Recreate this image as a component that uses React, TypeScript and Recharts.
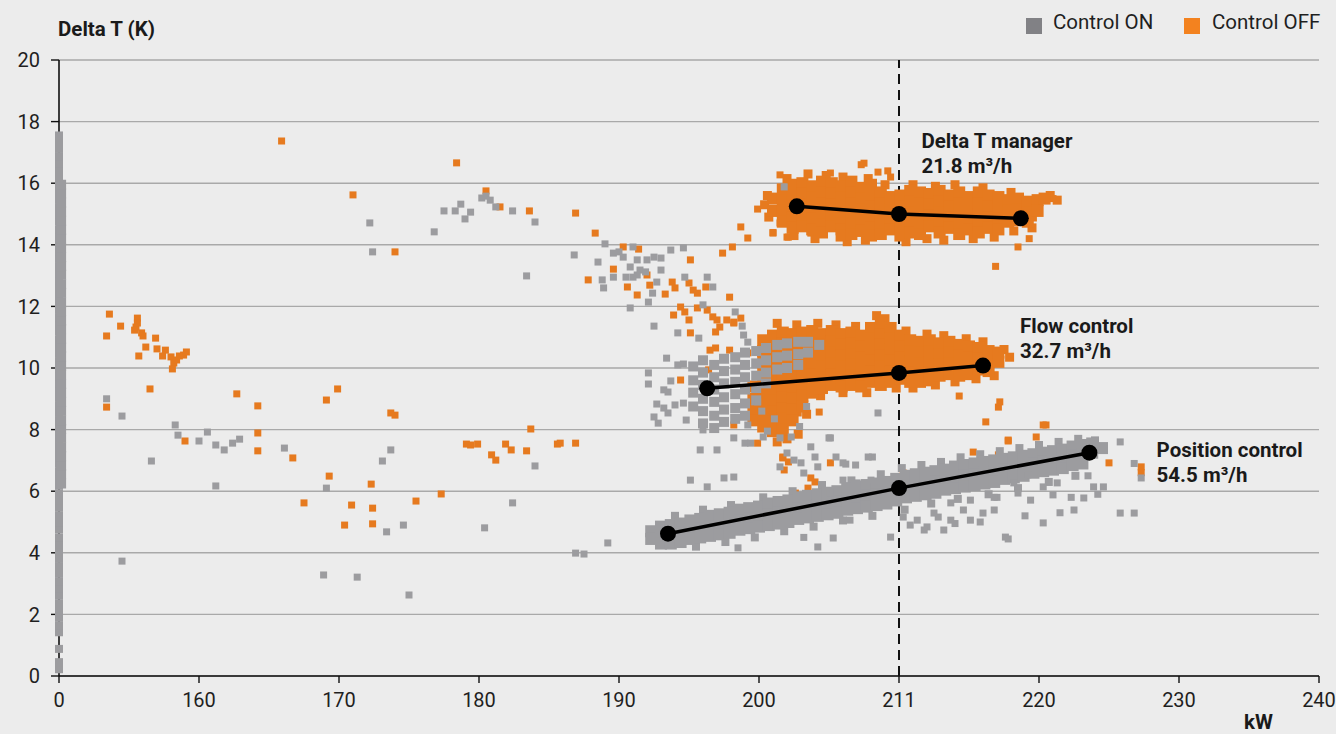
import React from 'react';
import { ScatterChart, Scatter, XAxis, YAxis, CartesianGrid, ReferenceDot } from 'recharts';

type Pt = [number, number];
type Col = [number, number[]];

// x slots: the first one holds the 0 kW readings, then 160..240 kW (210 slot is labelled 211)
const X_TICKS = [150, 160, 170, 180, 190, 200, 210, 220, 230, 240];
const X_TICK_LABELS = ['0', '160', '170', '180', '190', '200', '211', '220', '230', '240'];
const Y_TICKS = [0, 2, 4, 6, 8, 10, 12, 14, 16, 18, 20];
const IDLE_SLOT = 150;
const designLoadLine: Pt[] = [[210, 0], [210, 20]];

const SERIES_NAMES = ['Control ON', 'Control OFF'];

const GREY = '#9c9c9f';
const ORANGE = '#e67a1f';
const LEGEND_GREY = '#818185';
const LEGEND_ORANGE = '#f3821f';

// Control ON readings at 0 kW (pump idle)
const idleOnY = [
  0.22, 0.45, 0.88, 1.42, 1.65, 1.9, 2.14, 2.36, 2.61, 2.85, 3.08, 3.33, 3.55, 3.8, 4.03, 4.27,
  4.5, 4.76, 4.98, 5.22, 5.47, 5.7, 5.93, 6.18, 6.41, 6.65, 6.9, 7.12, 7.37, 7.6, 7.84, 8.08,
  8.31, 8.56, 8.79, 9.03, 9.27, 9.5, 9.74, 9.99, 10.22, 10.46, 10.7, 10.93, 11.18, 11.41, 11.65,
  11.89, 12.12, 12.37, 12.6, 12.84, 13.08, 13.31, 13.56, 13.79, 14.03, 14.27, 14.5, 14.75, 14.98,
  15.22, 15.46, 15.69, 15.94, 16.17, 16.41, 16.65, 16.88, 17.12, 17.35, 17.55,
];
const idleOnYDense = [
  6.25, 6.55, 6.83, 7.14, 7.42, 7.73, 8.02, 8.3, 8.61, 8.9, 9.2, 9.48, 9.79, 10.07, 10.38, 10.66,
  10.95, 11.26, 11.54, 11.85, 12.13, 12.44, 12.72, 13.03, 13.31, 13.6, 13.9, 14.2, 14.49, 14.78,
  15.08, 15.37, 15.67, 15.95,
];

// Control ON, single readings
const onScatter: Pt[] = [
  [153.4, 9.0], [154.5, 8.44], [154.5, 3.73], [156.6, 6.98], [158.3, 8.15], [158.5, 7.82],
  [160.0, 7.63], [160.6, 7.92], [161.2, 7.5], [161.2, 6.17], [161.8, 7.34], [162.4, 7.56],
  [162.9, 7.69], [166.1, 7.4], [169.1, 6.1], [168.9, 3.28], [171.3, 3.21], [172.2, 14.71],
  [172.4, 13.77], [173.1, 6.98], [173.7, 7.34], [173.4, 4.68], [174.6, 4.9], [175.0, 2.63],
  [176.8, 14.42], [177.5, 15.1], [178.3, 15.1], [178.7, 15.32], [179.0, 14.84], [179.4, 15.06],
  [180.2, 15.52], [180.5, 15.58], [180.8, 15.45], [181.2, 15.23], [182.4, 15.1], [184.0, 14.74],
  [180.4, 4.81], [182.4, 5.62], [183.4, 12.99], [184.0, 6.82], [186.8, 13.67], [186.9, 3.99],
  [187.5, 3.96], [189.2, 4.32],
  [189.0, 14.03], [188.5, 13.44], [188.8, 12.86], [188.9, 12.6], [189.6, 13.73], [190.0, 13.77],
  [191.0, 13.93], [190.3, 13.6], [190.8, 13.28], [191.3, 13.51], [191.5, 13.18], [191.3, 13.02],
  [191.0, 12.95], [190.5, 12.95], [189.6, 12.95], [192.0, 13.51], [191.9, 13.12], [192.5, 13.6],
  [192.7, 12.79], [192.4, 12.43], [192.1, 12.14], [193.0, 13.57], [193.0, 13.18], [193.7, 13.83],
  [194.6, 13.9], [190.8, 11.95], [194.7, 12.95], [196.3, 12.95], [196.7, 12.63], [196.0, 12.05],
  [198.3, 11.82], [198.8, 11.36], [199.2, 10.84], [192.5, 11.36], [194.2, 11.14], [195.7, 10.97],
  [193.4, 10.32], [192.1, 9.84], [192.1, 9.48], [193.7, 9.58], [193.2, 9.29], [193.5, 9.22],
  [192.7, 8.83], [193.2, 8.7], [193.5, 8.54], [194.0, 8.8], [194.6, 8.86], [192.5, 8.41],
  [192.8, 8.21], [194.8, 8.31], [194.2, 10.1], [194.6, 10.13], [198.9, 11.07], [201.8, 15.88],
  [195.8, 7.34], [197.0, 7.34], [196.0, 7.99], [198.2, 7.73], [199.0, 7.56], [199.4, 7.56],
  [208.5, 8.54], [205.0, 7.73], [208.1, 7.11], [206.2, 6.88], [206.9, 6.85], [205.5, 7.11],
  [203.7, 7.44], [204.0, 7.11], [202.3, 7.76], [202.0, 7.24], [203.0, 6.92], [201.5, 6.79],
  [195.1, 6.36], [196.3, 6.14], [197.5, 6.43], [198.2, 6.46], [199.2, 8.15], [200.3, 7.76],
  [201.5, 7.73], [204.2, 6.79], [205.1, 7.73], [202.5, 7.01], [203.2, 6.59], [206.0, 6.36],
  [207.0, 6.27], [208.0, 6.36], [205.1, 5.94], [207.8, 7.11], [206.0, 6.92],
  [200.2, 8.6], [201.1, 8.35], [200.6, 7.95], [199.9, 8.9], [202.9, 8.1], [203.4, 8.75],
  [198.5, 4.16], [203.2, 4.5], [204.2, 4.19], [205.3, 4.48], [206.5, 5.06], [209.4, 4.51],
  [210.3, 5.16], [211.3, 5.06], [212.0, 4.84], [212.8, 5.16], [213.7, 5.06], [214.6, 5.39],
  [215.1, 5.06], [216.0, 5.29], [216.8, 5.39], [217.0, 5.8], [218.5, 5.94], [219.4, 5.71],
  [220.3, 6.14], [221.3, 6.27], [222.3, 5.8], [222.5, 5.39], [223.9, 6.14], [224.6, 6.14],
  [225.8, 5.29], [226.8, 5.29], [225.8, 7.6], [226.8, 6.9], [227.3, 6.43], [217.6, 4.51],
  [220.3, 4.97], [213.2, 4.74], [211.8, 4.74], [218.2, 6.27], [219.2, 6.53], [221.0, 5.88],
  [223.2, 5.78], [216.8, 5.8], [215.1, 5.71], [213.7, 5.62], [212.5, 5.29], [217.8, 4.45],
  [210.8, 4.9], [214.0, 4.95], [215.8, 5.0], [219.0, 5.2], [221.5, 5.3], [223.5, 6.5],
  [224.2, 5.9],
];

// Control OFF, single readings
const offScatter: Pt[] = [
  [153.4, 11.04], [153.6, 11.75], [154.4, 11.36], [155.6, 11.62], [155.5, 11.33], [155.6, 11.46],
  [155.4, 11.23], [155.9, 11.14], [156.0, 11.04], [155.7, 10.39], [156.2, 10.68], [156.9, 10.97],
  [156.5, 9.32], [157.0, 10.62], [157.4, 10.39], [157.6, 10.58], [158.0, 10.36], [158.2, 10.16],
  [158.1, 9.97], [158.4, 10.26], [158.6, 10.39], [158.9, 10.42], [159.1, 10.52], [153.4, 8.73],
  [159.0, 7.63],
  [162.7, 9.16], [164.2, 8.77], [164.2, 7.89], [164.2, 7.31], [165.9, 17.37], [166.7, 7.08],
  [167.5, 5.62], [169.1, 8.96], [169.3, 6.49], [169.9, 9.32], [170.4, 4.9], [170.9, 5.55],
  [171.0, 15.62], [172.3, 6.23], [172.4, 5.45], [172.4, 4.94], [173.7, 8.54], [174.0, 8.47],
  [174.0, 13.77], [175.5, 5.68], [177.3, 5.91], [178.4, 16.66], [179.1, 7.53], [179.4, 7.5],
  [179.9, 7.53], [180.5, 15.75], [180.9, 7.18], [181.2, 7.01], [181.5, 15.23], [181.9, 7.53],
  [182.3, 7.34], [183.4, 7.31], [183.6, 15.1], [183.7, 8.02], [185.6, 7.53], [186.9, 15.03],
  [186.9, 7.56], [185.8, 7.56],
  [188.3, 14.38], [198.7, 14.58], [199.2, 14.22], [201.5, 14.71], [201.0, 14.38], [202.1, 14.25],
  [190.3, 13.93], [191.4, 13.86], [198.1, 13.93], [197.4, 13.73], [195.1, 13.51], [187.8, 12.86],
  [189.6, 13.21], [190.6, 12.63], [191.3, 12.37], [192.0, 13.02], [192.2, 12.69], [193.3, 12.4],
  [193.8, 12.79], [194.0, 12.6], [195.0, 12.76], [195.3, 12.53], [195.6, 12.43], [196.2, 12.63],
  [197.9, 12.3], [194.4, 11.98], [194.7, 11.82], [195.0, 11.56], [193.9, 11.72], [195.6, 11.95],
  [196.3, 11.88], [195.1, 11.14], [197.0, 11.56], [197.2, 11.33], [197.7, 11.56], [198.2, 11.49],
  [198.7, 11.62], [196.9, 10.65], [197.9, 10.58], [199.2, 10.49], [194.4, 9.61], [196.4, 9.94],
  [196.7, 11.66], [198.2, 11.46], [196.9, 11.17], [196.5, 10.58],
  [199.9, 15.16], [201.5, 16.27], [202.4, 16.0], [205.1, 16.33], [207.3, 16.6], [208.5, 16.36],
  [209.4, 16.2], [201.0, 14.4], [202.0, 14.25], [203.7, 14.38], [221.0, 15.5], [219.6, 14.87],
  [219.3, 14.2], [218.5, 13.93], [216.9, 13.3], [207.5, 16.65], [209.2, 16.4],
  [214.3, 9.09], [217.1, 8.73], [217.2, 8.9], [216.2, 8.25], [217.8, 7.63], [215.3, 7.27],
  [204.3, 8.57], [198.2, 8.15], [199.9, 7.56], [201.7, 7.11], [201.8, 8.64], [202.8, 8.54],
  [220.5, 8.15], [201.7, 7.08], [202.1, 6.95], [201.8, 6.69], [203.7, 6.43], [204.0, 6.3],
  [203.5, 6.1], [202.6, 5.94], [205.1, 6.92], [220.3, 8.15], [219.8, 7.76], [217.8, 7.66],
  [217.1, 7.18], [219.9, 6.69], [221.9, 6.85], [225.0, 6.92], [227.3, 6.79], [210.3, 6.59],
  [227.3, 6.6],
];

// dense clouds, one column of readings per load step
const offManagerCols: Col[] = [
  [201.0, [15.5, 15.1]],
  [201.7, [15.8, 15.45, 15.1, 14.75]],
  [202.4, [15.95, 15.6, 15.25, 14.9, 14.55]],
  [203.1, [16.0, 15.65, 15.3, 14.95, 14.6]],
  [203.8, [15.9, 15.55, 15.2, 14.85, 14.5]],
  [204.5, [16.05, 15.7, 15.35, 15.0, 14.65, 14.4]],
  [205.2, [16.0, 15.65, 15.3, 14.95, 14.6]],
  [205.9, [15.9, 15.55, 15.2, 14.85, 14.5, 14.3]],
  [206.6, [16.05, 15.7, 15.35, 15.0, 14.65, 14.35]],
  [207.3, [15.85, 15.5, 15.15, 14.8, 14.45]],
  [208.0, [15.95, 15.6, 15.25, 14.9, 14.55, 14.3]],
  [208.7, [15.7, 15.35, 15.0, 14.65, 14.35]],
  [209.4, [15.55, 15.2, 14.85, 14.5]],
  [210.1, [15.6, 15.25, 14.9, 14.55, 14.3]],
  [210.8, [15.75, 15.4, 15.05, 14.7, 14.4]],
  [211.5, [15.7, 15.35, 15.0, 14.65, 14.35]],
  [212.2, [15.65, 15.3, 14.95, 14.6]],
  [212.9, [15.75, 15.4, 15.05, 14.7, 14.4]],
  [213.6, [15.6, 15.25, 14.9, 14.55]],
  [214.3, [15.7, 15.35, 15.0, 14.65, 14.35]],
  [215.0, [15.55, 15.2, 14.85, 14.5]],
  [215.7, [15.7, 15.35, 15.0, 14.65, 14.4]],
  [216.4, [15.6, 15.25, 14.9, 14.55]],
  [217.1, [15.55, 15.2, 14.85, 14.5]],
  [217.8, [15.45, 15.1, 14.75]],
  [218.5, [15.5, 15.15, 14.8]],
  [219.2, [15.4, 15.05, 14.75]],
  [219.9, [15.45, 15.1]],
  [220.4, [15.5]],
];
const offManagerEdge: Pt[] = [
  [202.0, 16.15], [203.5, 16.3], [204.8, 16.25], [206.0, 16.2], [207.8, 16.15], [209.0, 15.95],
  [211.0, 15.95], [212.6, 15.9], [214.0, 15.95], [216.0, 15.85], [218.0, 15.7], [220.8, 15.6],
  [221.3, 15.45], [202.5, 14.3], [204.0, 14.2], [206.3, 14.1], [207.6, 14.15], [210.5, 14.1],
  [212.0, 14.2], [213.2, 14.15], [215.3, 14.2], [216.8, 14.25], [218.2, 14.45], [219.5, 14.55],
  [200.4, 15.3], [200.7, 14.9], [200.6, 15.6],
];

const offFlowCols: Col[] = [
  [199.6, [9.4, 9.0, 8.65, 8.3]],
  [200.3, [10.9, 10.55, 10.2, 9.85, 9.5, 9.15, 8.8, 8.45, 8.1]],
  [201.0, [11.05, 10.7, 10.35, 10.0, 9.65, 9.3, 8.95, 8.6, 8.25, 7.95]],
  [201.7, [11.15, 10.8, 10.45, 10.1, 9.75, 9.4, 9.05, 8.7, 8.35, 8.0]],
  [202.4, [11.1, 10.75, 10.4, 10.05, 9.7, 9.35, 9.0, 8.65, 8.3]],
  [203.1, [11.15, 10.8, 10.45, 10.1, 9.75, 9.4, 9.1, 8.75]],
  [203.8, [11.2, 10.85, 10.5, 10.15, 9.8, 9.45, 9.2]],
  [204.5, [11.1, 10.75, 10.4, 10.05, 9.7, 9.35]],
  [205.2, [11.2, 10.85, 10.5, 10.15, 9.8, 9.45]],
  [205.9, [11.1, 10.75, 10.4, 10.05, 9.7, 9.4]],
  [206.6, [11.15, 10.8, 10.45, 10.1, 9.75, 9.45]],
  [207.3, [11.05, 10.7, 10.35, 10.0, 9.7, 9.4]],
  [208.0, [11.3, 10.95, 10.6, 10.25, 9.9, 9.55]],
  [208.7, [11.45, 11.1, 10.75, 10.4, 10.05, 9.7, 9.45]],
  [209.4, [11.3, 10.95, 10.6, 10.25, 9.9, 9.55]],
  [210.1, [11.05, 10.7, 10.35, 10.0, 9.65]],
  [210.8, [10.9, 10.55, 10.2, 9.85, 9.55]],
  [211.5, [10.85, 10.5, 10.15, 9.8, 9.55]],
  [212.2, [10.9, 10.55, 10.2, 9.85, 9.6]],
  [212.9, [10.8, 10.45, 10.1, 9.75]],
  [213.6, [10.85, 10.5, 10.15, 9.8]],
  [214.3, [10.75, 10.4, 10.05, 9.75]],
  [215.0, [10.7, 10.35, 10.0, 9.8]],
  [215.7, [10.65, 10.3, 9.95]],
  [216.4, [10.55, 10.2, 9.9]],
  [217.1, [10.5, 10.2]],
];
const offFlowEdge: Pt[] = [
  [201.3, 11.45], [202.7, 11.4], [204.2, 11.45], [205.5, 11.4], [206.9, 11.35], [208.4, 11.7],
  [209.0, 11.6], [210.5, 11.2], [212.0, 11.1], [213.2, 11.05], [214.8, 10.95], [216.0, 10.85],
  [217.5, 10.6], [217.9, 10.35], [203.4, 8.5], [204.4, 9.1], [206.0, 9.2], [207.7, 9.2],
  [209.8, 9.35], [211.0, 9.35], [212.6, 9.45], [214.0, 9.55], [215.5, 9.65], [216.8, 9.75],
  [202.0, 7.7], [202.8, 7.85], [201.3, 7.6],
];

const onFlowCols: Col[] = [
  [195.3, [10.05, 9.6, 9.2, 8.75]],
  [196.0, [10.25, 9.85, 9.45, 9.0, 8.6, 8.2]],
  [196.8, [10.1, 9.7, 9.3, 8.9, 8.45, 8.05]],
  [197.5, [10.3, 9.9, 9.5, 9.05, 8.65, 8.25]],
  [198.3, [10.35, 9.95, 9.55, 9.15, 8.7, 8.35]],
  [199.0, [10.5, 10.1, 9.7, 9.3, 8.85, 8.45]],
  [199.8, [10.55, 10.15, 9.75, 9.35, 8.95]],
  [200.5, [10.65, 10.25, 9.85, 9.5]],
  [201.3, [10.75, 10.35, 9.95]],
  [202.0, [10.8, 10.4, 10.0]],
  [202.8, [10.85, 10.45, 10.1]],
  [203.5, [10.85, 10.5]],
  [204.3, [10.75]],
];

const onPositionCols: Col[] = [
  [192.3, [4.7, 4.45]],
  [193.0, [4.85, 4.55, 4.3]],
  [193.7, [4.9, 4.6, 4.3]],
  [194.4, [4.95, 4.65, 4.35]],
  [195.1, [5.05, 4.75, 4.45]],
  [195.8, [5.1, 4.8, 4.5]],
  [196.5, [5.2, 4.85, 4.55]],
  [197.2, [5.25, 4.9, 4.6]],
  [197.9, [5.3, 5.0, 4.65]],
  [198.6, [5.4, 5.05, 4.75]],
  [199.3, [5.45, 5.1, 4.8]],
  [200.0, [5.5, 5.15, 4.85]],
  [200.7, [5.6, 5.25, 4.9]],
  [201.4, [5.65, 5.3, 4.95]],
  [202.1, [5.7, 5.35, 5.0]],
  [202.8, [5.8, 5.45, 5.1]],
  [203.5, [5.85, 5.5, 5.15]],
  [204.2, [5.9, 5.55, 5.2]],
  [204.9, [5.95, 5.6, 5.25]],
  [205.6, [6.0, 5.65, 5.3]],
  [206.3, [6.1, 5.75, 5.4]],
  [207.0, [6.15, 5.8, 5.45]],
  [207.7, [6.2, 5.85, 5.5]],
  [208.4, [6.25, 5.9, 5.55]],
  [209.1, [6.3, 5.95, 5.6]],
  [209.8, [6.4, 6.05, 5.7]],
  [210.5, [6.5, 6.15, 5.8]],
  [211.2, [6.55, 6.2, 5.85]],
  [211.9, [6.6, 6.25, 5.9]],
  [212.6, [6.65, 6.3, 5.95]],
  [213.3, [6.7, 6.4, 6.05]],
  [214.0, [6.8, 6.45, 6.1]],
  [214.7, [6.85, 6.5, 6.15]],
  [215.4, [6.9, 6.55, 6.2]],
  [216.1, [6.95, 6.6, 6.25]],
  [216.8, [7.0, 6.65, 6.3]],
  [217.5, [7.05, 6.7, 6.4]],
  [218.2, [7.1, 6.8, 6.45]],
  [218.9, [7.15, 6.85, 6.5]],
  [219.6, [7.2, 6.9, 6.6]],
  [220.3, [7.25, 6.95, 6.65]],
  [221.0, [7.3, 7.0, 6.7]],
  [221.7, [7.35, 7.05, 6.75]],
  [222.4, [7.45, 7.15, 6.85]],
  [223.1, [7.5, 7.2, 6.9]],
  [223.8, [7.55, 7.25]],
  [224.5, [7.4]],
];
const onPositionEdge: Pt[] = [
  [194.0, 5.2], [196.0, 5.4], [198.0, 5.55], [200.3, 5.8], [202.4, 6.0], [204.5, 6.2],
  [206.6, 6.35], [208.7, 6.55], [210.2, 6.75], [211.6, 6.85], [213.0, 6.95], [214.4, 7.1],
  [215.8, 7.2], [217.2, 7.3], [218.6, 7.4], [220.0, 7.5], [221.4, 7.6], [222.8, 7.7],
  [224.0, 7.65], [195.5, 4.2], [197.6, 4.35], [199.7, 4.5], [201.8, 4.7], [203.9, 4.85],
  [206.0, 5.05], [208.1, 5.2], [210.4, 5.4], [212.3, 5.6], [214.2, 5.75], [216.4, 5.9],
  [218.5, 6.1], [220.7, 6.3], [222.6, 6.5],
];

// fitted trend for each control mode
const managerTrend: Pt[] = [[202.7, 15.25], [210, 15.0], [218.7, 14.86]];
const flowTrend: Pt[] = [[196.3, 9.34], [210, 9.84], [216.0, 10.08]];
const positionTrend: Pt[] = [[193.5, 4.62], [210, 6.1], [223.6, 7.25]];

const TREND_TITLES = ['Delta T manager', 'Flow control', 'Position control'];
const TREND_FLOWS = ['21.8 m³/h', '32.7 m³/h', '54.5 m³/h'];
const TREND_LABEL_AT: Pt[] = [[211.6, 17.15], [218.65, 11.15], [228.4, 7.12]];

const toPoints = (pts: Pt[]) => pts.map(([x, y]) => ({ x, y }));
const fromCols = (cols: Col[]) => cols.flatMap(([x, ys]) => ys.map((y) => ({ x, y })));

const idleOn = idleOnY.map((y) => ({ x: IDLE_SLOT, y }));
const idleOnDense = idleOnYDense.map((y) => ({ x: IDLE_SLOT + 0.15, y }));

const square = (fill: string, size: number) => (props: any) => {
  const { cx, cy } = props;
  if (cx == null || cy == null) return <g />;
  return <rect x={cx - size / 2} y={cy - size / 2} width={size} height={size} fill={fill} />;
};

const trendDot = (props: any) => {
  const { cx, cy } = props;
  if (cx == null || cy == null) return <g />;
  return <circle cx={cx} cy={cy} r={8} fill="#000" />;
};

const noDot = () => <g />;

const FONT = 'Roboto, sans-serif';
const TITLE_SIZE = 20.5;

const trendLabel = (title: string, flow: string) => (props: any) => {
  const vb = props.viewBox || {};
  const x = vb.x ?? 0;
  const y = vb.y ?? 0;
  return (
    <text x={x} y={y} fontFamily={FONT} fontWeight={700} fontSize={TITLE_SIZE} fill="#1a1a1a">
      <tspan x={x}>{title}</tspan>
      <tspan x={x} dy={25.5}>{flow}</tspan>
    </text>
  );
};

const axisText = { fill: '#1f1f1f', fontSize: 20, fontFamily: FONT };

export default function App() {
  return (
    <div
      style={{
        position: 'absolute',
        left: 0,
        top: 0,
        width: 1336,
        height: 734,
        background: '#ececec',
        fontFamily: FONT,
      }}
    >
      <ScatterChart width={1336} height={734} margin={{ top: 60, right: 17, bottom: 8, left: 19 }}>
        <CartesianGrid vertical={false} stroke="#a9a9a9" strokeWidth={1.4} />
        <XAxis
          type="number"
          dataKey="x"
          domain={[150, 240]}
          ticks={X_TICKS}
          interval={0}
          tickFormatter={(v: number) => X_TICK_LABELS[X_TICKS.indexOf(v)] ?? ''}
          height={50}
          tickSize={7}
          tickMargin={10}
          axisLine={{ stroke: '#111', strokeWidth: 1.6 }}
          tickLine={{ stroke: '#111', strokeWidth: 1.4 }}
          tick={axisText}
          label={(props: any) => {
            const vb = props.viewBox || {};
            return (
              <text
                x={(vb.x ?? 0) + (vb.width ?? 0) - 46}
                y={(vb.y ?? 0) + 53}
                textAnchor="end"
                fontFamily={FONT}
                fontWeight={700}
                fontSize={TITLE_SIZE}
                fill="#1a1a1a"
              >
                kW
              </text>
            );
          }}
        />
        <YAxis
          type="number"
          dataKey="y"
          domain={[0, 20]}
          ticks={Y_TICKS}
          interval={0}
          width={40}
          tickSize={8}
          tickMargin={11}
          axisLine={{ stroke: '#111', strokeWidth: 1.6 }}
          tickLine={{ stroke: '#111', strokeWidth: 1.4 }}
          tick={axisText}
          label={(props: any) => {
            const vb = props.viewBox || {};
            return (
              <text
                x={(vb.x ?? 0) + (vb.width ?? 0) - 1}
                y={(vb.y ?? 0) - 24}
                fontFamily={FONT}
                fontWeight={700}
                fontSize={TITLE_SIZE}
                fill="#1a1a1a"
              >
                Delta T (K)
              </text>
            );
          }}
        />

        {/* design load marker, kept behind the readings */}
        <Scatter
          data={toPoints(designLoadLine)}
          line={{ stroke: '#111', strokeWidth: 2, strokeDasharray: '10 6' }}
          lineType="joint"
          shape={noDot}
          zIndex={550}
          isAnimationActive={false}
        />

        <Scatter data={toPoints(offScatter)} shape={square(ORANGE, 7)} isAnimationActive={false} />
        <Scatter data={toPoints(offManagerEdge)} shape={square(ORANGE, 9)} isAnimationActive={false} />
        <Scatter data={fromCols(offManagerCols)} shape={square(ORANGE, 12)} isAnimationActive={false} />
        <Scatter data={toPoints(offFlowEdge)} shape={square(ORANGE, 9)} isAnimationActive={false} />
        <Scatter data={fromCols(offFlowCols)} shape={square(ORANGE, 12)} isAnimationActive={false} />
        <Scatter data={idleOn} shape={square(GREY, 8)} isAnimationActive={false} />
        <Scatter data={idleOnDense} shape={square(GREY, 10)} isAnimationActive={false} />
        <Scatter data={fromCols(onFlowCols)} shape={square(GREY, 10)} isAnimationActive={false} />
        <Scatter data={toPoints(onPositionEdge)} shape={square(GREY, 8)} isAnimationActive={false} />
        <Scatter data={fromCols(onPositionCols)} shape={square(GREY, 12)} isAnimationActive={false} />
        <Scatter data={toPoints(onScatter)} shape={square(GREY, 7)} isAnimationActive={false} />

        {[managerTrend, flowTrend, positionTrend].map((trend, i) => (
          <Scatter
            key={`trend-${i}`}
            data={toPoints(trend)}
            line={{ stroke: '#000', strokeWidth: 3.5 }}
            lineType="joint"
            shape={trendDot}
            isAnimationActive={false}
          />
        ))}

        {TREND_LABEL_AT.map(([x, y], i) => (
          <ReferenceDot
            key={`label-${i}`}
            x={x}
            y={y}
            r={0}
            fill="none"
            stroke="none"
            label={trendLabel(TREND_TITLES[i], TREND_FLOWS[i])}
          />
        ))}
      </ScatterChart>

      <svg
        width={1336}
        height={50}
        style={{ position: 'absolute', left: 0, top: 0, pointerEvents: 'none' }}
      >
        <rect x={1026} y={18} width={16} height={16} fill={LEGEND_GREY} />
        <text x={1053} y={29} fontFamily={FONT} fontSize={TITLE_SIZE} fill="#1f1f1f">
          {SERIES_NAMES[0]}
        </text>
        <rect x={1184} y={18} width={16} height={16} fill={LEGEND_ORANGE} />
        <text x={1212} y={29} fontFamily={FONT} fontSize={TITLE_SIZE} fill="#1f1f1f">
          {SERIES_NAMES[1]}
        </text>
      </svg>
    </div>
  );
}
